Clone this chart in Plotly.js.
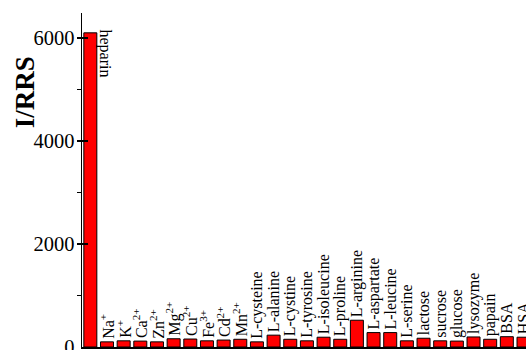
<!DOCTYPE html>
<html>
<head>
<meta charset="utf-8">
<script src="https://cdn.plot.ly/plotly-3.0.1.min.js"></script>
<style>
  html, body { margin: 0; padding: 0; overflow: hidden; background: #fff; }
  #chart { width: 526px; height: 350px; }
</style>
</head>
<body>
<div id="chart"></div>
<script>
// Interferents tested against heparin
const categories = [
  'heparin', 'Na+', 'K+', 'Ca2+', 'Zn2+', 'Mg2+', 'Cu2+', 'Fe3+', 'Cd2+', 'Mn2+',
  'L-cysteine', 'L-alanine', 'L-cystine', 'L-tyrosine', 'L-isoleucine', 'L-proline',
  'L-arginine', 'L-aspartate', 'L-leucine', 'L-serine', 'lactose', 'sucrose',
  'glucose', 'lysozyme', 'papain', 'BSA', 'HSA'
];

// Rich-text labels written above each bar
const barLabels = [
  '', 'Na<sup>+</sup>', 'K<sup>+</sup>', 'Ca<sup>2+</sup>', 'Zn<sup>2+</sup>',
  'Mg<sup>2+</sup>', 'Cu<sup>2+</sup>', 'Fe<sup>3+</sup>', 'Cd<sup>2+</sup>', 'Mn<sup>2+</sup>',
  'L-cysteine', 'L-alanine', 'L-cystine', 'L-tyrosine', 'L-isoleucine', 'L-proline',
  'L-arginine', 'L-aspartate', 'L-leucine', 'L-serine', 'lactose', 'sucrose',
  'glucose', 'lysozyme', 'papain', 'BSA', 'HSA'
];

// I/RRS response
const values = [
  6100, 100, 120, 115, 100, 160, 155, 120, 135, 150,
  100, 230, 150, 120, 190, 150,
  520, 280, 280, 120, 170, 120,
  115, 195, 150, 200, 190
];

const yTicks = [0, 2000, 4000, 6000];

const serif = '"Liberation Serif", "Times New Roman", serif';

const trace = {
  type: 'bar',
  x: categories.map((_, i) => i),
  y: values,
  text: barLabels,
  textposition: 'outside',
  textangle: -90,
  constraintext: 'none',
  cliponaxis: false,
  textfont: { family: serif, size: 16, color: '#000' },
  marker: { color: '#ff0000', line: { color: '#000', width: 1 } },
  hoverinfo: 'skip'
};

const layout = {
  width: 526,
  height: 350,
  margin: { l: 82, r: 0, t: 13, b: 3, pad: 0 },
  paper_bgcolor: '#fff',
  plot_bgcolor: '#fff',
  showlegend: false,
  bargap: 0.22,
  xaxis: {
    range: [-0.5, 26.15],
    showline: true,
    linecolor: '#000',
    linewidth: 1.5,
    showticklabels: false,
    ticks: '',
    showgrid: false,
    zeroline: false,
    fixedrange: true
  },
  yaxis: {
    range: [0, 6485],
    tickvals: yTicks,
    ticktext: yTicks.map(String),
    ticks: 'inside',
    ticklen: 6,
    tickwidth: 1.2,
    tickcolor: '#000',
    ticklabelstandoff: 2,
    ticklabeloverflow: 'allow',
    minor: { dtick: 1000, ticks: 'outside', ticklen: 4, tickwidth: 1.2, tickcolor: '#000', showgrid: false },
    tickfont: { family: serif, size: 20.5, color: '#000' },
    showline: true,
    linecolor: '#000',
    linewidth: 1.5,
    showgrid: false,
    zeroline: false,
    fixedrange: true
  },
  annotations: [
    {
      // label beside the heparin bar, reading downward
      x: 0, y: values[0], xref: 'x', yref: 'y',
      text: categories[0],
      textangle: 90,
      showarrow: false,
      xanchor: 'center', yanchor: 'top',
      xshift: 15, yshift: 5,
      font: { family: serif, size: 16, color: '#000' }
    },
    {
      // y-axis title
      x: 0, y: 0.763, xref: 'paper', yref: 'paper',
      text: '<b>I/RRS</b>',
      textangle: -90,
      showarrow: false,
      xanchor: 'center', yanchor: 'middle',
      xshift: -57,
      font: { family: serif, size: 27, color: '#000' }
    }
  ]
};

Plotly.newPlot('chart', [trace], layout, { displayModeBar: false, staticPlot: true });
</script>
</body>
</html>
